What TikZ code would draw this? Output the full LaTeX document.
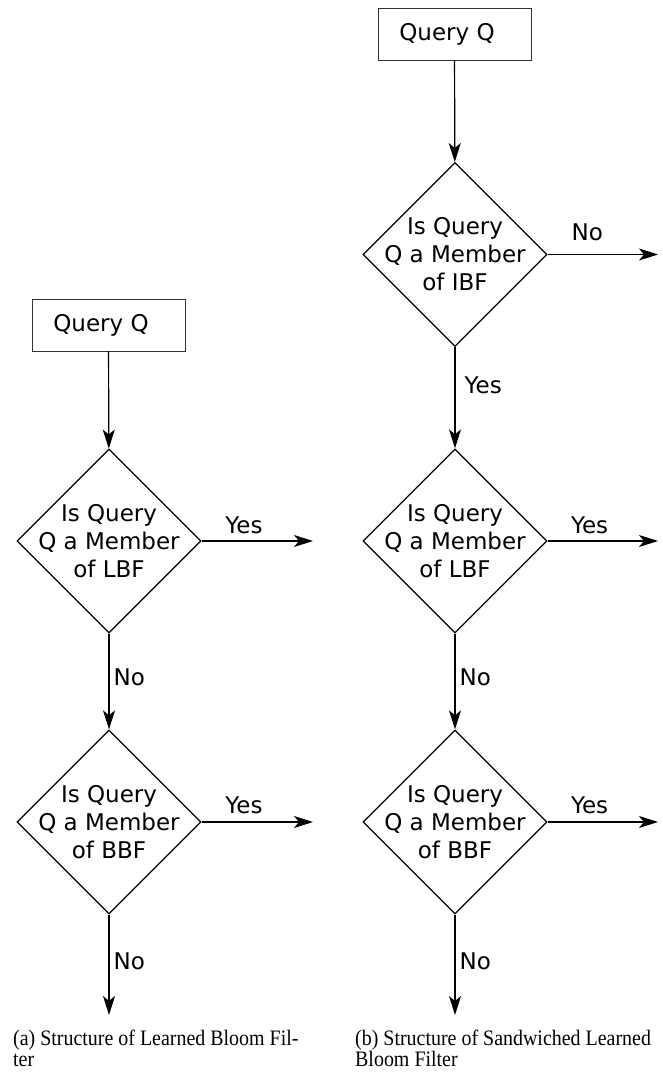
\documentclass[tikz,border=0pt]{standalone}
\usepackage{fontspec}
\setmainfont{DejaVu Sans}
\newfontfamily\capfont{Liberation Serif}
\usetikzlibrary{arrows.meta,shapes.geometric}

\tikzset{
  query/.style={draw=black!80,line width=0.9pt,minimum width=153pt,minimum height=52pt,inner sep=0pt},
  decision/.style={draw,diamond,line width=1.3pt,minimum width=184pt,minimum height=184pt,inner sep=0pt},
  decisiontext/.style={align=center,inner sep=0pt},
  flow/.style={-{Stealth[length=19pt,width=12pt,inset=5pt]},line width=1.2pt},
  answer/.style={inner sep=0pt},
  caption/.style={font=\capfont\fontsize{21}{19.5}\selectfont,anchor=base west,inner sep=0pt,align=left,
    xscale=0.95,yscale=1.05,transform shape}
}

\begin{document}
\begin{tikzpicture}[x=1pt,y=1pt,font=\fontsize{23}{28}\selectfont]
\useasboundingbox (0,0) rectangle (662,1072);
% (a) learned filter
\begin{scope}
\node[query] (qa) at (108.5,747) {Query Q\hspace*{15pt}};
\node[decision] (lbfa) at (109,531) {};
\node[decisiontext] (lbfatext) at (lbfa) {Is Query\\Q a Member\\of LBF};
\node[decision] (bbfa) at (109,250) {};
\node[decisiontext] (bbfatext) at (bbfa) {Is Query\\Q a Member\\of BBF};
\coordinate (lbfaout) at (313,531);
\coordinate (bbfaout) at (313,250);
\coordinate (aend) at (109,57);
\draw[flow] (qa) -- (lbfa);
\draw[flow] (lbfa.east) -- (lbfaout) node[answer,pos=0.38,above=7pt] (lbfayes) {Yes};
\draw[flow] (lbfa) -- (bbfa) node[answer,pos=0.46,right=4pt] (lbfano) {No};
\draw[flow] (bbfa.east) -- (bbfaout) node[answer,pos=0.38,above=8pt] (bbfayes) {Yes};
\draw[flow] (bbfa) -- (aend) node[answer,pos=0.46,right=4pt] (bbfano) {No};
\node[caption] (capa) at (13,6) {(a) Structure of Learned Bloom Fil-\\ter};
\end{scope}
% (b) sandwiched filter
\begin{scope}
\node[query] (qb) at (454.5,1038) {Query Q\hspace*{15pt}};
\node[decision] (ibfb) at (455,817.5) {};
\node[decisiontext] (ibfbtext) at (ibfb) {Is Query\\Q a Member\\of IBF};
\node[decision] (lbfb) at (455,531) {};
\node[decisiontext] (lbfbtext) at (lbfb) {Is Query\\Q a Member\\of LBF};
\node[decision] (bbfb) at (455,250) {};
\node[decisiontext] (bbfbtext) at (bbfb) {Is Query\\Q a Member\\of BBF};
\coordinate (ibfbout) at (658,817.5);
\coordinate (lbfbout) at (658,531);
\coordinate (bbfbout) at (658,250);
\coordinate (bend) at (455,57);
\draw[flow] (qb) -- (ibfb);
\draw[flow] (ibfb.east) -- (ibfbout) node[answer,pos=0.36,above=13pt] (ibfbno) {No};
\draw[flow] (ibfb) -- (lbfb) node[answer,pos=0.38,right=9pt] (ibfbyes) {Yes};
\draw[flow] (lbfb.east) -- (lbfbout) node[answer,pos=0.38,above=7pt] (lbfbyes) {Yes};
\draw[flow] (lbfb) -- (bbfb) node[answer,pos=0.46,right=4pt] (lbfbno) {No};
\draw[flow] (bbfb.east) -- (bbfbout) node[answer,pos=0.38,above=8pt] (bbfbyes) {Yes};
\draw[flow] (bbfb) -- (bend) node[answer,pos=0.46,right=4pt] (bbfbno) {No};
\node[caption] (capb) at (355,6) {(b) Structure of Sandwiched Learned\\Bloom Filter};
\end{scope}
\end{tikzpicture}
\end{document}
